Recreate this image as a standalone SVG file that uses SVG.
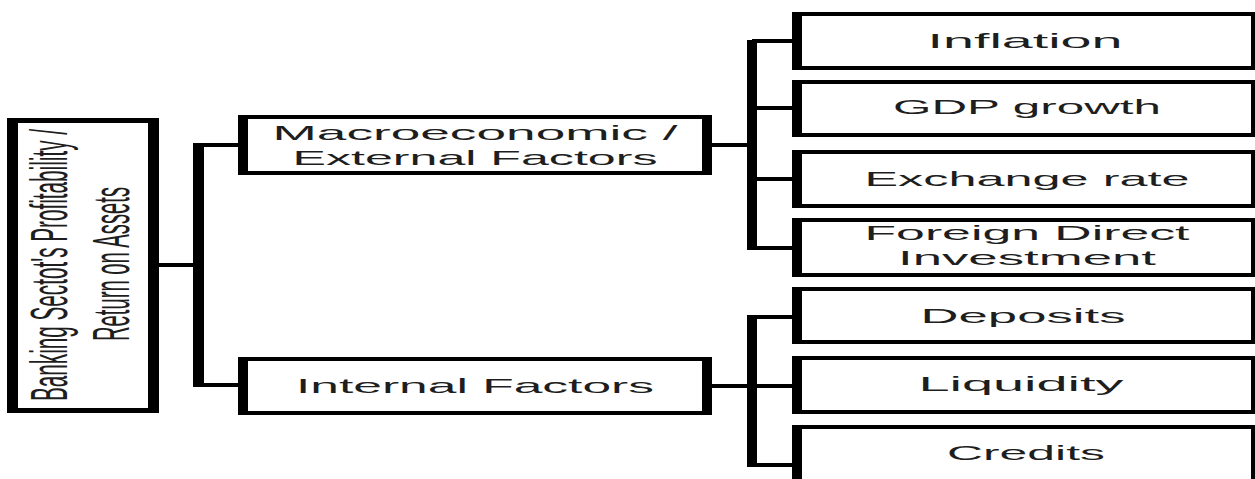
<svg xmlns="http://www.w3.org/2000/svg" width="1255" height="479" viewBox="0 0 1255 479">
  <style>
    .outer { fill: #000000; }
    .inner { fill: #ffffff; }
    .lbl { font-family: "Liberation Sans", Arial, sans-serif; font-size: 21px; fill: #1e1e1e; text-anchor: middle; }
    .rot { font-family: "Liberation Sans", Arial, sans-serif; font-size: 22px; fill: #1e1e1e; text-anchor: middle; }
    .h { stroke: #000000; stroke-width: 4; fill: none; }
    .spine { fill: #000000; }
  </style>
  <rect width="1255" height="479" fill="#ffffff"/>

  <g id="connectors">
    <line class="h" x1="158" y1="265" x2="199" y2="265"/>
    <rect class="spine" x="193" y="143" width="11" height="244"/>
    <line class="h" x1="199" y1="145" x2="239" y2="145"/>
    <line class="h" x1="199" y1="385" x2="239" y2="385"/>

    <line class="h" x1="711" y1="145" x2="752" y2="145"/>
    <rect class="spine" x="747" y="40" width="10" height="210"/>
    <line class="h" x1="752" y1="41" x2="793" y2="41"/>
    <line class="h" x1="752" y1="108" x2="793" y2="108"/>
    <line class="h" x1="752" y1="179" x2="793" y2="179"/>
    <line class="h" x1="752" y1="248" x2="793" y2="248"/>

    <line class="h" x1="711" y1="386" x2="752" y2="386"/>
    <rect class="spine" x="747" y="315" width="10" height="152"/>
    <line class="h" x1="752" y1="317" x2="793" y2="317"/>
    <line class="h" x1="752" y1="386" x2="793" y2="386"/>
    <line class="h" x1="752" y1="465" x2="793" y2="465"/>
  </g>

  <g id="root">
    <rect class="outer" x="7" y="118" width="152" height="295"/>
    <rect class="inner" x="18" y="123" width="130" height="285"/>
    <text class="rot" transform="translate(67,265) rotate(-90) scale(1,2.35)" textLength="272" lengthAdjust="spacingAndGlyphs">Banking Sectot's Profitability /</text>
    <text class="rot" transform="translate(129,264) rotate(-90) scale(1,2.35)" textLength="154" lengthAdjust="spacingAndGlyphs">Return on Assets</text>
  </g>

  <g id="macro">
    <rect class="outer" x="238" y="115" width="474" height="60"/>
    <rect class="inner" x="248" y="119" width="454" height="52"/>
    <text class="lbl" x="475" y="140" textLength="405" lengthAdjust="spacingAndGlyphs">Macroeconomic /</text>
    <text class="lbl" x="475" y="165" textLength="365" lengthAdjust="spacingAndGlyphs">External Factors</text>
  </g>

  <g id="internal">
    <rect class="outer" x="238" y="357" width="474" height="58"/>
    <rect class="inner" x="248" y="361" width="454" height="50"/>
    <text class="lbl" x="475" y="393" textLength="358" lengthAdjust="spacingAndGlyphs">Internal Factors</text>
  </g>

  <g id="inflation">
    <rect class="outer" x="792" y="12" width="463" height="58"/>
    <rect class="inner" x="802" y="16" width="449" height="50"/>
    <text class="lbl" x="1025" y="48" textLength="195" lengthAdjust="spacingAndGlyphs">Inflation</text>
  </g>

  <g id="gdp">
    <rect class="outer" x="792" y="80" width="463" height="57"/>
    <rect class="inner" x="802" y="84" width="449" height="49"/>
    <text class="lbl" x="1027" y="114" textLength="268" lengthAdjust="spacingAndGlyphs">GDP growth</text>
  </g>

  <g id="exchange">
    <rect class="outer" x="792" y="150" width="463" height="58"/>
    <rect class="inner" x="802" y="154" width="449" height="50"/>
    <text class="lbl" x="1027" y="186" textLength="325" lengthAdjust="spacingAndGlyphs">Exchange rate</text>
  </g>

  <g id="fdi">
    <rect class="outer" x="792" y="218" width="463" height="59"/>
    <rect class="inner" x="802" y="222" width="449" height="51"/>
    <text class="lbl" x="1027" y="240" textLength="325" lengthAdjust="spacingAndGlyphs">Foreign Direct</text>
    <text class="lbl" x="1027" y="265" textLength="258" lengthAdjust="spacingAndGlyphs">Investment</text>
  </g>

  <g id="deposits">
    <rect class="outer" x="792" y="287" width="463" height="57"/>
    <rect class="inner" x="802" y="291" width="449" height="49"/>
    <text class="lbl" x="1023" y="323" textLength="205" lengthAdjust="spacingAndGlyphs">Deposits</text>
  </g>

  <g id="liquidity">
    <rect class="outer" x="792" y="356" width="463" height="58"/>
    <rect class="inner" x="802" y="360" width="449" height="50"/>
    <text class="lbl" x="1021" y="391" textLength="205" lengthAdjust="spacingAndGlyphs">Liquidity</text>
  </g>

  <g id="credits">
    <rect class="outer" x="792" y="425" width="463" height="70"/>
    <rect class="inner" x="802" y="429" width="449" height="70"/>
    <text class="lbl" x="1026" y="460" textLength="158" lengthAdjust="spacingAndGlyphs">Credits</text>
  </g>
</svg>
